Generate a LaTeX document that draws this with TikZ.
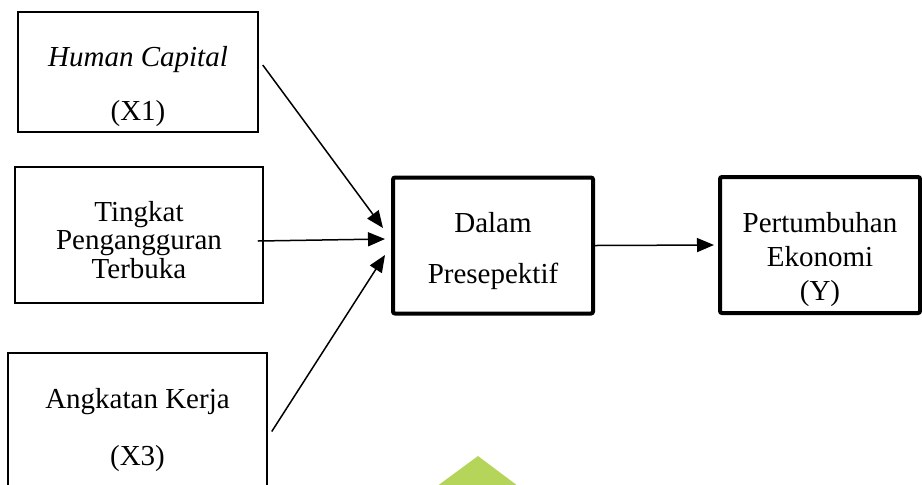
\documentclass[tikz,border=0pt]{standalone}
\usepackage{fontspec}
\setmainfont{Liberation Serif}
\usetikzlibrary{positioning}
\usetikzlibrary{arrows.meta}
\usetikzlibrary{calc}

\definecolor{leafgreen}{HTML}{B5D55A}

\begin{document}
\begin{tikzpicture}[x=0.5pt,y=-0.5pt,
    varbox/.style={draw, line width=0.75pt, inner sep=0pt},
    mainbox/.style={draw, line width=2pt, rounded corners=1pt, inner sep=0pt, minimum width=100pt, minimum height=68pt},
    boxtext/.style={align=center, inner sep=0pt},
    arr/.style={-{Triangle[length=8.5pt,width=7pt]}, line width=0.75pt}]
                % Frame of the page
                \useasboundingbox (0,0) rectangle (922,484);
                \clip (0,0) rectangle (922,484);

                % Boxes of the variables
                \node[varbox, minimum width=120pt, minimum height=60pt] (hc) at (138,72) {};
                \node[varbox, minimum width=124pt, minimum height=68pt] (tpt) at (139,235) {};
                \node[varbox, minimum width=129.5pt, minimum height=78.5pt] (ak) at (137.5,431.5) {};
                \node[mainbox] (dp) at (493,245.5) {};
                \node[mainbox] (pe) at (820,245) {};

                % Texts in the boxes
                \node[boxtext, font=\fontsize{14.5}{27}\selectfont] (hc-t) at ([yshift=-7.5pt]hc.center) {\textit{Human Capital}\\(X1)};
                \node[boxtext, font=\fontsize{14.5}{14.2}\selectfont] (tpt-t) at ([yshift=-2.5pt]tpt.center) {Tingkat\\Pengangguran\\Terbuka};
                \node[boxtext, font=\fontsize{14.5}{28.5}\selectfont] (ak-t) at ([yshift=0.75pt]ak.center) {Angkatan Kerja\\(X3)};
                \node[boxtext, font=\fontsize{14.5}{25.5}\selectfont] (dp-t) at ([yshift=-3pt]dp.center) {Dalam\\Presepektif};
                \node[boxtext, font=\fontsize{14.5}{17}\selectfont] (pe-t) at ([yshift=-7.5pt]pe.center) {Pertumbuhan\\Ekonomi\\(Y)};

                % Arrows
                \draw[arr] ([xshift=2pt,yshift=3.5pt]hc.east) -- ([xshift=-4pt,yshift=8.75pt]dp.west);
                \draw[arr] ([xshift=-3pt,yshift=-3pt]tpt.east) -- ([xshift=-3pt,yshift=3.25pt]dp.west);
                \draw[arr] ([xshift=2pt]ak.east) -- ([xshift=-3pt,yshift=-4.75pt]dp.west);
                \draw[arr] (dp.east) -- ([xshift=-2pt]pe.west);

                % Green mark at the bottom
                \fill[leafgreen] (478,456) -- (530,495) -- (425,495) -- cycle;

            \end{tikzpicture}
\end{document}
